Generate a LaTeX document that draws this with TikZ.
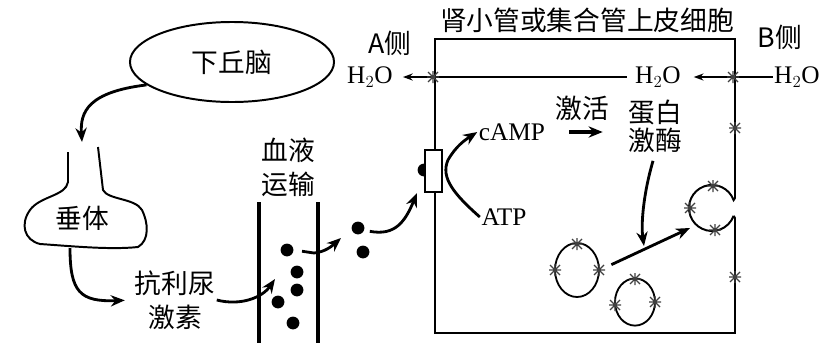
\documentclass[tikz,border=0pt]{standalone}
\usepackage{fontspec}
\setmainfont{Liberation Serif}
\newfontfamily\cjk{Noto Sans CJK SC}
\usetikzlibrary{arrows.meta, positioning, shapes.geometric}
\tikzset{
  zh/.style={font=\cjk\fontsize{19}{24}\selectfont, inner sep=1pt, align=center},
  chem/.style={font=\fontsize{18}{20}\selectfont, inner sep=1pt},
  arrow/.style={-{Stealth[length=10pt, width=8pt]}, line width=2pt},
  flow/.style={-{Stealth[length=7pt, width=5pt]}, line width=1.3pt},
  membrane/.style={line width=1.4pt},
  vessel/.style={line width=3.2pt},
  hormone/.style={circle, fill=black, inner sep=0pt, minimum size=0.32cm},
  vesicle/.style={ellipse, draw, line width=1.3pt, inner sep=0pt},
  aqp/.pic={\draw[black!75, line width=0.9pt] (-5,-5) -- (5,5) (-5,5) -- (5,-5) (-6,0) -- (6,0) (0,-6) -- (0,6);}
}

\begin{document}
\begin{tikzpicture}[x=0.025cm, y=-0.025cm]
\useasboundingbox (0,0) rectangle (822,343);

% Hypothalamus
\node[zh, ellipse, draw, line width=1.4pt, minimum width=5.1cm, minimum height=2cm] (hypo) at (232,62) {下丘脑};

% Pituitary
\draw[membrane] (68,152) -- (68,182) .. controls (66,196) and (40,196) .. (30,210)
  .. controls (20,224) and (24,240) .. (40,244) .. controls (70,246) and (110,250) .. (138,247)
  .. controls (150,240) and (148,222) .. (142,210) .. controls (135,198) and (108,200) .. (103,190)
  -- (98,147);
\node[zh] (pit) at (82,218) {垂体};
\coordinate (stalk) at (82,142);
\coordinate (pitbase) at (70,248);

% ADH
\node[zh] (adh) at (175,300) {抗利尿\\激素};

% Blood vessel
\node[zh] (blood) at (288,167) {血液\\运输};
\draw[vessel] (259,202) -- (259,343);
\draw[vessel] (318,202) -- (318,343);
\node[hormone] (h1) at (287,250) {};
\node[hormone] (h2) at (297,272) {};
\node[hormone] (h3) at (297,290) {};
\node[hormone] (h4) at (278,302) {};
\node[hormone] (h5) at (293,323) {};
\node[hormone] (h6) at (358,228) {};
\node[hormone] (h7) at (363,252) {};
\coordinate (enter) at (275,279);
\coordinate (leave) at (341,238);
\coordinate (bind) at (417,193);

% Cell
\node[zh] (title) at (587,20) {肾小管或集合管上皮细胞};
\node[zh] (sideA) at (390,43) {A侧};
\node[zh] (sideB) at (780,37) {B侧};
\draw[membrane] (733.6,215.9) -- (735,218) -- (735,333) -- (435,333) -- (435,39) -- (735,39)
  -- (735,198) -- (733.6,200.1) arc[start angle=20, end angle=340, radius=0.575cm];

% Water
\node[chem] (wL) at (370,77) {H$_2$O};
\node[chem] (wM) at (658,77) {H$_2$O};
\node[chem] (wR) at (797,77) {H$_2$O};
\draw[flow, shorten >=8pt] (wR.west) -- (wM.east);
\draw[flow, shorten <=5pt, shorten >=6pt] (wM.west) -- (wL.east);

% Receptor
\node[hormone] (rdot) at (424,170) {};
\node[draw, fill=white, line width=1pt, minimum width=0.42cm, minimum height=1.05cm, inner sep=0pt] (rec) at (433.5,171) {};

% Signal
\node[chem] (camp) at (512,132) {cAMP};
\node[chem] (atp) at (504,217) {ATP};
\node[zh] (act) at (582,108) {激活};
\node[zh, font=\cjk\fontsize{19}{20}\selectfont] (kin) at (655,126) {蛋白\\激酶};
\coordinate (target) at (644,246);
\coordinate (dock) at (690,228);

% Vesicles
\node[vesicle, minimum width=1.1cm, minimum height=1.35cm] (ves1) at (577,270) {};
\node[vesicle, minimum width=1cm, minimum height=1.18cm] (ves2) at (635,302) {};

% Water channels
\foreach \p in {(433,77), (733,77), (735,128), (735,277),
                (713,186), (690,208), (715,230),
                (577,244), (555,270), (599,270),
                (635,279), (615,305), (655,302)}
  \pic at \p {aqp};

% Arrows
\draw[arrow] (hypo.195) .. controls (88,92) and (80,112) .. (stalk);
\draw[arrow, shorten >=6pt] (pitbase) .. controls (70,292) and (80,302) .. (adh.west);
\draw[arrow] (adh.east) .. controls (240,306) and (262,298) .. (enter);
\draw[arrow, shorten <=6pt] (h1.east) -- (314,253) .. controls (325,252) and (332,246) .. (leave);
\draw[arrow, shorten <=4pt] (h6.-20) .. controls (395,236) and (405,222) .. (bind);
\draw[arrow] (atp.west) .. controls (455,195) and (440,178) .. (448,160)
  .. controls (456,146) and (465,140) .. (camp.west);
\draw[arrow, line width=2.6pt, shorten <=16pt, shorten >=17pt] (camp.east) -- (camp.east -| kin.west);
\draw[arrow, shorten <=5pt] (kin.south) .. controls (643,195) and (641,225) .. (target);
\draw[arrow, shorten <=9pt] (ves1.east) -- (dock);

\end{tikzpicture}
\end{document}
